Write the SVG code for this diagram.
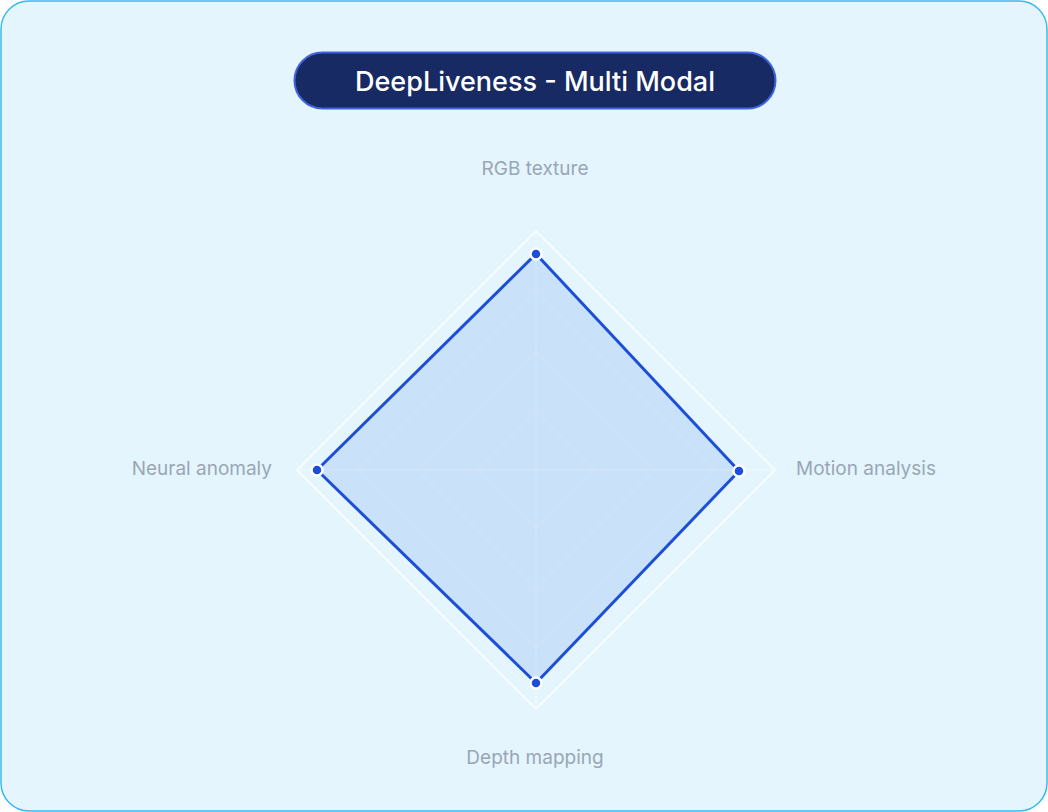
<svg xmlns="http://www.w3.org/2000/svg" width="1048" height="812" viewBox="0 0 1048 812">
<style>
.lbl{font-family:Inter,"Liberation Sans",sans-serif;font-size:19px;fill:#9aa6b6}
.grid{fill:none;stroke:#ffffff;stroke-width:1.5;stroke-opacity:0.9}
.gridi{fill:none;stroke:#ffffff;stroke-width:1;stroke-opacity:0.45}
.pt{fill:#1d4ed8;stroke:#ffffff;stroke-width:2.5}
</style>
<rect x="1" y="1" width="1046" height="810" rx="28" fill="#e4f5fd" stroke="#3bb8ee" stroke-width="1.5"/>
<g id="title">
<rect x="294.5" y="52.5" width="481" height="56" rx="28" fill="#182a63" stroke="#3f63dc" stroke-width="2"/>
<text x="535" y="91" text-anchor="middle" font-family="Inter,'Liberation Sans',sans-serif" font-size="27" font-weight="500" fill="#ffffff">DeepLiveness - Multi Modal</text>
</g>
<g id="grid">
<polygon class="grid" points="536,231 775,470 536,709 297,470"/>
<polygon class="gridi" points="536,291 715,470 536,649 357,470"/>
<polygon class="gridi" points="536,351 655,470 536,589 417,470"/>
<polygon class="gridi" points="536,411 595,470 536,529 477,470"/>
<line class="gridi" x1="536" y1="231" x2="536" y2="709"/>
<line class="gridi" x1="297" y1="470" x2="775" y2="470"/>
</g>
<g id="connectors">
<polygon points="536,254 739,471 536,683 317,470" fill="#2f6ee0" fill-opacity="0.14" stroke="#1d4ed8" stroke-width="3" stroke-linejoin="round"/>
</g>
<g id="points">
<circle class="pt" cx="536" cy="254" r="5.5"/>
<circle class="pt" cx="739" cy="471" r="5.5"/>
<circle class="pt" cx="536" cy="683" r="5.5"/>
<circle class="pt" cx="317" cy="470" r="5.5"/>
</g>
<g id="labels">
<text class="lbl" x="535" y="175" text-anchor="middle">RGB texture</text>
<text class="lbl" x="796" y="475">Motion analysis</text>
<text class="lbl" x="535" y="764" text-anchor="middle">Depth mapping</text>
<text class="lbl" x="272" y="475" text-anchor="end">Neural anomaly</text>
</g>
</svg>
